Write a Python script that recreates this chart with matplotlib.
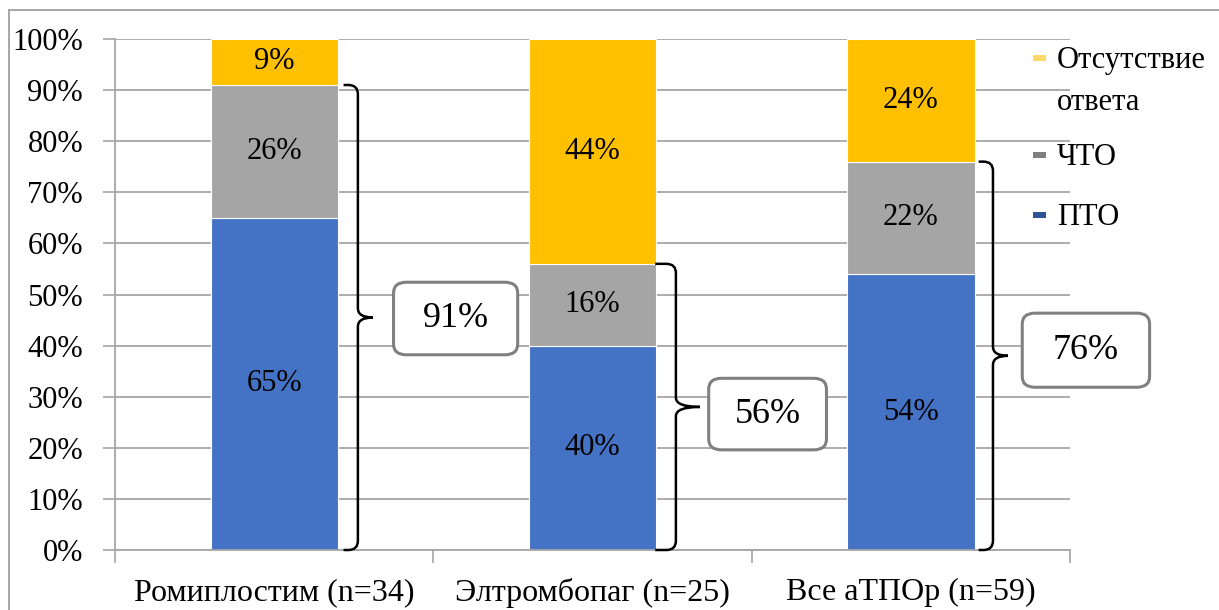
import textwrap
import matplotlib
matplotlib.use("Agg")
import matplotlib.pyplot as plt
from matplotlib.path import Path
from matplotlib.patches import PathPatch, FancyBboxPatch, Rectangle
from matplotlib.lines import Line2D

plt.rcParams['font.family'] = ['Liberation Serif', 'DejaVu Serif']

# ---- data -------------------------------------------------------------
categories = ["Ромиплостим (n=34)", "Элтромбопаг (n=25)", "Все аТПОр (n=59)"]
series_names = ["ПТО", "ЧТО", "Отсутствие ответа"]
pto = [65, 40, 54]
chto = [26, 16, 22]
no_resp = [9, 44, 24]
response_total = [91, 56, 76]  # ПТО + ЧТО, shown in callouts
yticks = [0, 10, 20, 30, 40, 50, 60, 70, 80, 90, 100]

bar_colors = ["#4472C4", "#A5A5A5", "#FFC000"]
legend_colors = ["#2F5597", "#7F7F7F", "#FFD966"]

W, H = 1219, 610
fig = plt.figure(figsize=(W / 100, H / 100), dpi=100)
ax = fig.add_axes([115 / W, 1 - 550 / H, (1070 - 115) / W, (550 - 39) / H])

x = list(range(len(categories)))
bw = 0.4
values = [pto, chto, no_resp]
bottom = [0, 0, 0]
for vals, col in zip(values, bar_colors):
    ax.bar(x, vals, bw, bottom=bottom, color=col, edgecolor="white",
           linewidth=0.8, zorder=2)
    for xi, v, b in zip(x, vals, bottom):
        ax.text(xi, b + v / 2, f"{v}%", ha="center", va="center",
                fontsize=22, color="black", zorder=4)
    bottom = [b + v for b, v in zip(bottom, vals)]

ax.set_xlim(-0.5, len(categories) - 0.5)
ax.set_ylim(0, 100)
ax.set_yticks(yticks)
ax.set_yticklabels([f"{t}%" for t in yticks], fontsize=22)
ax.set_xticks(x)
ax.set_xticklabels(categories, fontsize=23)
ax.set_xticks([i - 0.5 for i in range(len(categories) + 1)], minor=True)
ax.tick_params(axis="x", which="major", length=0, pad=20)
ax.tick_params(axis="x", which="minor", length=9, color="#A6A6A6", width=1.2)
ax.tick_params(axis="y", length=9, color="#A6A6A6", width=1.2, pad=14)
ax.grid(axis="y", color="#A6A6A6", linewidth=1.3, zorder=0)
ax.set_axisbelow(True)
for s in ["top", "right"]:
    ax.spines[s].set_visible(False)
for s in ["left", "bottom"]:
    ax.spines[s].set_color("#A6A6A6")
    ax.spines[s].set_linewidth(1.3)


def brace(xc, top, hook, tip, ry=1.8, rx=0.03):
    ym = top / 2
    verts = [
        (xc - hook, top), (xc - rx, top),
        (xc, top), (xc, top - ry),
        (xc, ym + ry),
        (xc, ym), (xc + tip, ym),
        (xc, ym), (xc, ym - ry),
        (xc, 0 + ry),
        (xc, 0), (xc - rx, 0),
        (xc - hook, 0),
    ]
    codes = [Path.MOVETO, Path.LINETO,
             Path.CURVE3, Path.CURVE3,
             Path.LINETO,
             Path.CURVE3, Path.CURVE3,
             Path.CURVE3, Path.CURVE3,
             Path.LINETO,
             Path.CURVE3, Path.CURVE3,
             Path.LINETO]
    ax.add_patch(PathPatch(Path(verts, codes), fill=False, edgecolor="black",
                           linewidth=1.8, zorder=5, clip_on=False))


# brace geometry per category: (x offset, hook, tip)
brace_geom = [(0.263, 0.045, 0.047), (0.262, 0.065, 0.075), (0.258, 0.045, 0.047)]
# callout box centres (x offset, y in %) and sizes (width, height)
box_geom = [((0.57, 45.3), (0.39, 14.2)),
            ((0.55, 26.6), (0.37, 14.0)),
            ((0.55, 39.1), (0.40, 14.5))]

for xi, tot, (dx, hk, tp), ((bx, by), (bwid, bht)) in zip(
        x, response_total, brace_geom, box_geom):
    brace(xi + dx, tot, hk, tp)
    cx = xi + bx
    box = FancyBboxPatch((cx - bwid / 2, by - bht / 2), bwid, bht,
                         boxstyle="round,pad=0,rounding_size=0.04",
                         mutation_aspect=100 * 511 / 955,
                         facecolor="white", edgecolor="#808080",
                         linewidth=2.2, zorder=6, clip_on=False)
    ax.add_patch(box)
    ax.text(cx, by, f"{tot}%", ha="center", va="center", fontsize=26,
            zorder=7)

# legend, top entry first
legend_rows = [(2, 58, 60), (1, 155, 157), (0, 215, 217)]
for idx, my, ty in legend_rows:
    fig.patches.append(Rectangle((1033 / W, 1 - (my + 3) / H), 13 / W, 6 / H,
                                 transform=fig.transFigure,
                                 facecolor=legend_colors[idx], edgecolor="none"))
    label = "\n".join(textwrap.wrap(series_names[idx], 11))
    fig.text(1057 / W, 1 - (ty - 14) / H, label, ha="left", va="top",
             fontsize=22, linespacing=1.6)

# outer chart border
fig.add_artist(Line2D([9 / W, 1], [1 - 10 / H, 1 - 10 / H],
                      transform=fig.transFigure, color="#A0A0A0", lw=1.3))
fig.add_artist(Line2D([9 / W, 9 / W], [1 - 10 / H, 0],
                      transform=fig.transFigure, color="#A0A0A0", lw=1.3))

fig.savefig("out.png", dpi=100)
